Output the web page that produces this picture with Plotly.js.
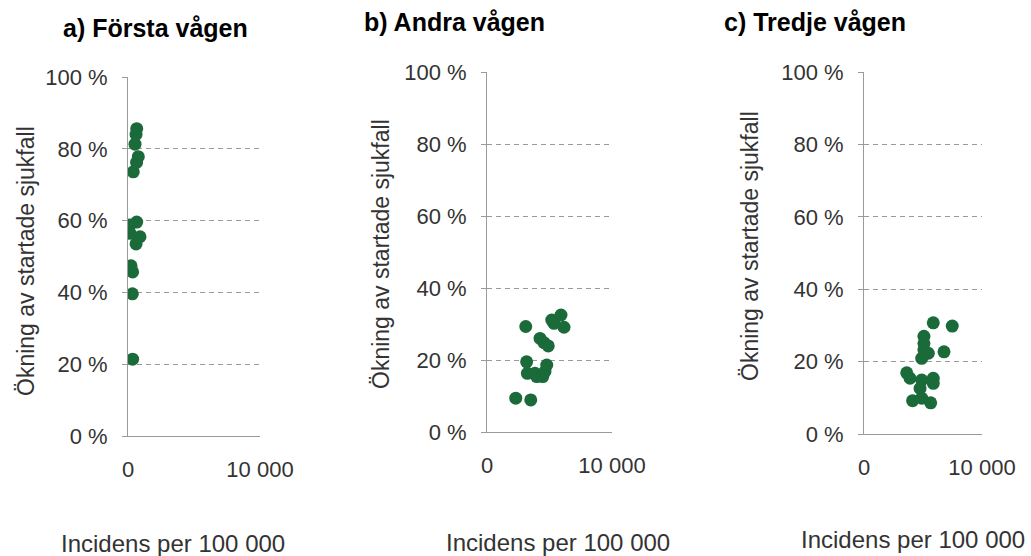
<!DOCTYPE html>
<html>
<head>
<meta charset="utf-8">
<script src="https://cdn.plot.ly/plotly-3.0.1.min.js"></script>
<style>html,body{margin:0;padding:0;background:#fff;}#chart{width:1031px;height:556px;}</style>
</head>
<body>
<div id="chart"></div>
<script>
// ---- data ----
const panelTitles = ["a) Första vågen", "b) Andra vågen", "c) Tredje vågen"];
const yAxisTitle = "Ökning av startade sjukfall";
const xAxisTitle = "Incidens per 100 000";
const yTickVals = [0, 20, 40, 60, 80, 100];
const yTickLabels = ["0 %", "20 %", "40 %", "60 %", "80 %", "100 %"];
const xTickVals = [0, 10000];
const xTickLabels = ["0", "10 000"];

// a) Första vågen
const xA = [660, 610, 530, 780, 650, 400, 660, 150, 150, 910, 610, 230, 350, 330, 350];
const yA = [85.6, 84.0, 81.3, 77.8, 76.2, 73.6, 59.6, 58.8, 56.5, 55.5, 53.5, 47.4, 45.7, 39.6, 21.4];
// b) Andra vågen
const xB = [2300, 3500, 3100, 3170, 3230, 3840, 3980, 4460, 4640, 4780, 4240, 4560, 4900, 5180, 5360, 5920, 6160];
const yB = [9.4, 8.9, 29.3, 19.5, 16.3, 16.3, 15.4, 15.4, 16.8, 18.6, 26.0, 24.8, 23.9, 31.1, 30.2, 32.5, 29.1];
// c) Tredje vågen
const xC = [5870, 7480, 5080, 5080, 5080, 5450, 4890, 6780, 3620, 3900, 4890, 4750, 5870, 5870, 4120, 4890, 5650];
const yC = [30.7, 29.8, 27.0, 25.0, 23.2, 22.3, 20.9, 22.7, 16.9, 15.4, 14.9, 12.6, 15.4, 14.0, 9.2, 9.9, 8.6];

// ---- layout helpers ----
const W = 1031, H = 556;
const px = v => v / W;
const py = v => 1 - v / H;
const FONT = "Liberation Sans, Arial, sans-serif";
const green = "#1b6b3a";

const panels = [
  {x: xA, y: yA, xd: [128, 260], yd: [436, 77], title: [155, 28], yt: [26, 261], xt: [173, 543]},
  {x: xB, y: yB, xd: [487, 612], yd: [432, 72], title: [454, 22], yt: [381, 254], xt: [558, 542]},
  {x: xC, y: yC, xd: [864, 982], yd: [434, 72], title: [815, 22], yt: [750, 246], xt: [913, 539]}
];

const data = [];
const layout = {
  width: W, height: H,
  margin: {l: 0, r: 0, t: 0, b: 0},
  paper_bgcolor: "#fff", plot_bgcolor: "#fff",
  showlegend: false,
  font: {family: FONT, color: "#333"},
  annotations: []
};

panels.forEach((p, i) => {
  const s = i === 0 ? "" : String(i + 1);
  data.push({
    type: "scatter", mode: "markers",
    x: p.x, y: p.y,
    xaxis: "x" + s, yaxis: "y" + s,
    marker: {color: green, size: 13, line: {width: 0}},
    hoverinfo: "skip"
  });
  layout["xaxis" + s] = {
    domain: [px(p.xd[0]), px(p.xd[1])],
    anchor: "y" + s,
    range: [0, 10000],
    tickmode: "array", tickvals: xTickVals, ticktext: xTickLabels,
    showgrid: false, zeroline: false,
    showline: true, linecolor: "#9a9a9a", linewidth: 1,
    ticks: "", ticklabelstandoff: 14,
    tickfont: {family: FONT, size: 22, color: "#333"},
    fixedrange: true
  };
  layout["yaxis" + s] = {
    domain: [py(p.yd[0]), py(p.yd[1])],
    anchor: "x" + s,
    range: [0, 100],
    tickmode: "array", tickvals: yTickVals, ticktext: yTickLabels,
    showgrid: true, gridcolor: "#9a9a9a", gridwidth: 1, griddash: "5px,4px",
    zeroline: false,
    showline: true, linecolor: "#9a9a9a", linewidth: 1,
    ticks: "outside", ticklen: 5, tickcolor: "#9a9a9a", tickwidth: 1,
    ticklabelstandoff: 10,
    tickfont: {family: FONT, size: 22, color: "#333"},
    fixedrange: true
  };
  layout.annotations.push({
    text: "<b>" + panelTitles[i] + "</b>", showarrow: false,
    xref: "paper", yref: "paper", x: px(p.title[0]), y: py(p.title[1]),
    xanchor: "center", yanchor: "middle",
    font: {family: FONT, size: 25, color: "#000"}
  });
  layout.annotations.push({
    text: yAxisTitle, showarrow: false, textangle: -90,
    xref: "paper", yref: "paper", x: px(p.yt[0]), y: py(p.yt[1]),
    xanchor: "center", yanchor: "middle",
    font: {family: FONT, size: 23, color: "#333"}
  });
  layout.annotations.push({
    text: xAxisTitle, showarrow: false,
    xref: "paper", yref: "paper", x: px(p.xt[0]), y: py(p.xt[1]),
    xanchor: "center", yanchor: "middle",
    font: {family: FONT, size: 24, color: "#333"}
  });
});

Plotly.newPlot("chart", data, layout, {displayModeBar: false, staticPlot: true});
</script>
</body>
</html>
